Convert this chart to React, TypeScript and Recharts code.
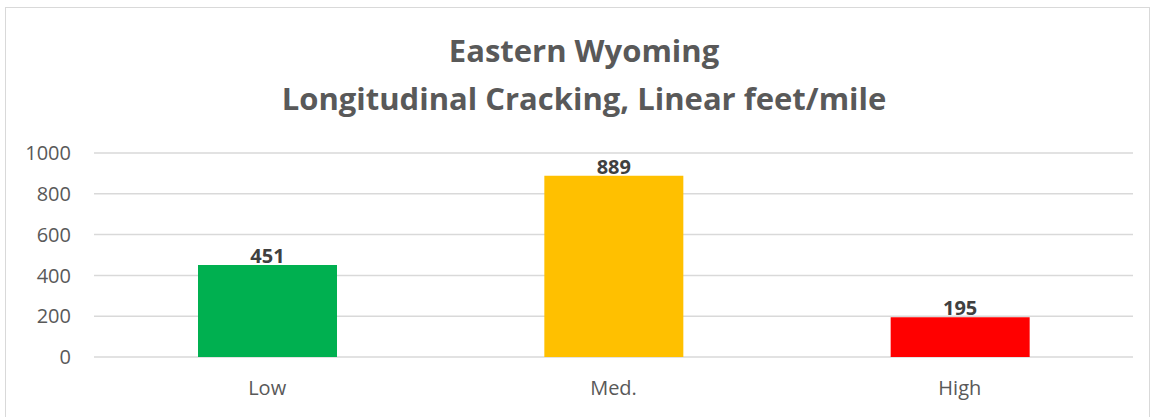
import { BarChart, Bar, XAxis, YAxis, CartesianGrid, Cell, LabelList } from 'recharts'

const categories = ['Low', 'Med.', 'High']
const values = [451, 889, 195]
const barColors = ['#00B050', '#FFC000', '#FF0000']
const yTicks = [0, 200, 400, 600, 800, 1000]

const font = '"Open Sans", Lato, sans-serif'

export default function App() {
  const data = categories.map((c, i) => ({ name: c, value: values[i] }))
  return (
    <div style={{ position: 'fixed', left: 0, top: 0, width: 1157, height: 417, background: '#fff', fontFamily: font }}>
      <div style={{ position: 'absolute', left: 5, top: 7, width: 1145, height: 420, border: '1.5px solid #d9d9d9', boxSizing: 'border-box' }} />
      <div style={{ position: 'absolute', left: 0, width: 1168, top: 26, textAlign: 'center', color: '#595959', fontWeight: 700, fontSize: 31, lineHeight: '48px' }}>
        <div>Eastern Wyoming</div>
        <div>Longitudinal Cracking, Linear feet/mile</div>
      </div>
      <div style={{ position: 'absolute', left: 0, top: 0 }}>
        <BarChart width={1157} height={417} data={data} margin={{ top: 153, right: 24, bottom: 20, left: 0 }}>
          <CartesianGrid vertical={false} stroke="#d9d9d9" strokeWidth={1.5} />
          <XAxis dataKey="name" axisLine={false} tickLine={false} tickSize={0} tickMargin={24} height={40}
            tick={{ fontSize: 20, fill: '#595959', fontFamily: font }} />
          <YAxis domain={[0, 1000]} ticks={yTicks} axisLine={false} tickLine={false} tickSize={0} tickMargin={23} width={94}
            tick={{ fontSize: 20, fill: '#595959', fontFamily: font }} />
          <Bar dataKey="value" barSize={139} isAnimationActive={false}>
            {data.map((d, i) => <Cell key={d.name} fill={barColors[i]} />)}
            <LabelList dataKey="value" position="top" offset={2} style={{ fontSize: 20, fontWeight: 700, fill: '#404040', fontFamily: font }} />
          </Bar>
        </BarChart>
      </div>
    </div>
  )
}
